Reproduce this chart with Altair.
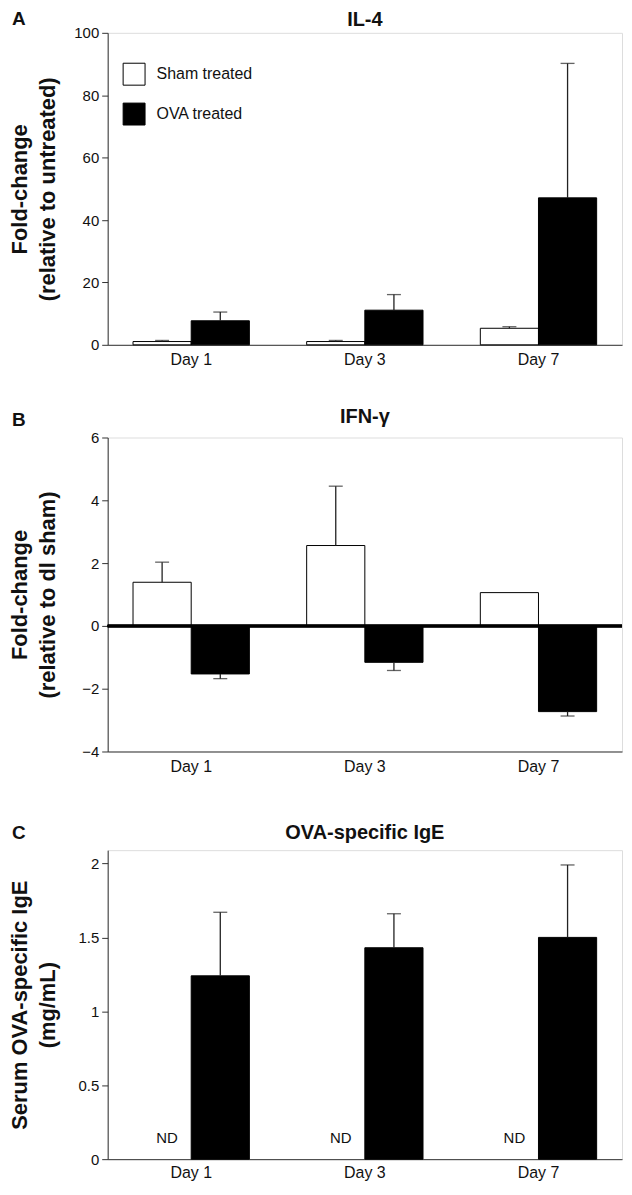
import altair as alt
import pandas as pd

days = ["Day 1", "Day 3", "Day 7"]
groups = ["Sham treated", "OVA treated"]

# Panel A: IL-4
il4_sham = [1.05, 1.05, 5.3]
il4_sham_err = [1.4, 1.4, 5.8]
il4_ova = [7.7, 11.1, 47.1]
il4_ova_err = [10.5, 16.1, 90.2]

# Panel B: IFN-gamma
ifn_sham = [1.39, 2.56, 1.06]
ifn_sham_err = [2.03, 4.45, None]
ifn_ova = [-1.53, -1.16, -2.73]
ifn_ova_err = [-1.68, -1.42, -2.87]

# Panel C: OVA-specific IgE (sham not detected)
ige_sham = [None, None, None]
ige_sham_label = ["ND", "ND", "ND"]
ige_ova = [1.24, 1.43, 1.50]
ige_ova_err = [1.67, 1.66, 1.99]

FONT = "Liberation Sans"
W = 516


def make_df(sham, sham_err, ova, ova_err, sham_label=None):
    rows = []
    for i, d in enumerate(days):
        rows.append({"day": d, "group": groups[0], "value": sham[i], "err": sham_err[i],
                     "label": sham_label[i] if sham_label else ""})
        rows.append({"day": d, "group": groups[1], "value": ova[i], "err": ova_err[i], "label": ""})
    return pd.DataFrame(rows)


def panel(df, letter, title, title_y, letter_y, ytitle, domain, ticks, height,
          legend=False, zero_rule=False, nd=False, label_pad=7):
    x = alt.X("day:N", sort=days,
              scale=alt.Scale(paddingInner=0.33, paddingOuter=0.146),
              axis=alt.Axis(title=None, ticks=False, labelAngle=0, labelFontSize=16,
                            labelPadding=label_pad, labelColor="#111", labelFont=FONT,
                            domainColor="#333"))
    xo = alt.XOffset("group:N", sort=groups,
                     scale=alt.Scale(domain=groups, paddingInner=0, paddingOuter=0))
    yscale = alt.Scale(domain=domain, nice=False, zero=False)
    y = alt.Y("value:Q", scale=yscale,
              axis=alt.Axis(values=ticks, format="~r", title=ytitle, grid=False,
                            tickSize=6, tickColor="#333", domainColor="#333",
                            labelFontSize=15, labelColor="#111", labelFont=FONT,
                            labelPadding=3,
                            titleFontSize=22, titleFontWeight="bold", titleFont=FONT,
                            titleColor="#111", titleAngle=270, titleX=-98,
                            titleY=height / 2, titleBaseline="top", titleAlign="center",
                            titleLineHeight=28))
    if legend:
        leg = alt.Legend(title=None, orient="none", legendX=15, legendY=30,
                         symbolType="square", symbolSize=484, symbolStrokeColor="black",
                         symbolStrokeWidth=1, labelFontSize=16, labelFont=FONT,
                         labelColor="#111", labelOffset=11, rowPadding=13, padding=0)
    else:
        leg = None
    fill = alt.Fill("group:N", scale=alt.Scale(domain=groups, range=["white", "black"]),
                    legend=leg)

    base = alt.Chart(df)
    bars = base.mark_bar(stroke="black", strokeWidth=1).encode(
        x=x, xOffset=xo, y=y, fill=fill)
    err_df = base.transform_filter("isValid(datum.err) && isValid(datum.value)")
    rules = err_df.mark_rule(color="#222", strokeWidth=1.3).encode(
        x=x, xOffset=xo, y=alt.Y("value:Q", scale=yscale), y2="err:Q")
    caps = err_df.mark_tick(size=14, thickness=1.3, color="#222").encode(
        x=x, xOffset=xo, y=alt.Y("err:Q", scale=yscale))
    layers = [bars, rules, caps]
    if zero_rule:
        layers.append(alt.Chart(df).mark_rule(color="black", strokeWidth=2.5).encode(
            y=alt.datum(0)))
    if nd:
        layers.append(base.transform_filter("datum.label != ''").mark_text(
            fontSize=15, font=FONT, color="#111", baseline="middle", dx=5, dy=-21).encode(
            x=x, xOffset=xo, y=alt.datum(0), text="label:N"))
    heads = pd.DataFrame({"letter": [letter], "title": [title]})
    layers.append(alt.Chart(heads).mark_text(
        align="left", baseline="alphabetic", fontSize=19, fontWeight="bold", font=FONT,
        color="#111").encode(text="letter:N", x=alt.value(-96), y=alt.value(letter_y)))
    layers.append(alt.Chart(heads).mark_text(
        align="center", baseline="alphabetic", fontSize=20, fontWeight="bold", font=FONT,
        color="#111").encode(text="title:N", x=alt.value(W / 2), y=alt.value(title_y)))

    return alt.layer(*layers).properties(width=W, height=height)


chart_a = panel(make_df(il4_sham, il4_sham_err, il4_ova, il4_ova_err), "A", "IL-4", -6.5, -7.5,
                ["Fold-change", "(relative to untreated)"], [0, 100],
                [0, 20, 40, 60, 80, 100], 313, legend=True)
chart_b = panel(make_df(ifn_sham, ifn_sham_err, ifn_ova, ifn_ova_err), "B", "IFN-γ", -15, -12,
                ["Fold-change", "(relative to dl sham)"], [-4, 6],
                [-4, -2, 0, 2, 4, 6], 315, zero_rule=True)
chart_c = panel(make_df(ige_sham, [None] * 3, ige_ova, ige_ova_err, ige_sham_label), "C",
                "OVA-specific IgE", -11, -11,
                ["Serum OVA-specific IgE", "(mg/mL)"], [0, 2.09],
                [0, 0.5, 1, 1.5, 2], 310, nd=True, label_pad=5)

top = alt.vconcat(chart_a, chart_b, spacing=37).resolve_scale(fill="independent")
chart = alt.vconcat(top, chart_c, spacing=47).resolve_scale(fill="independent").properties(
    padding=0
).configure_view(stroke="#333", strokeWidth=1.3).configure(background="white")

chart.save("out.html", embed_options={"renderer": "svg", "actions": False})
